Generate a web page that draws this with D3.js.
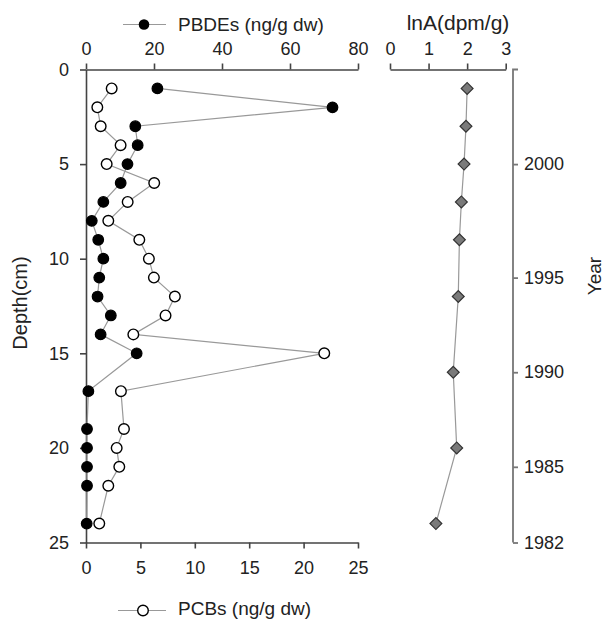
<!DOCTYPE html>
<html>
<head>
<meta charset="utf-8">
<script src="https://cdn.jsdelivr.net/npm/d3@7"></script>
<style>
body { margin: 0; background: #fff; }
text { font-family: "Liberation Sans", Arial, sans-serif; fill: #222; }
</style>
</head>
<body>
<div id="chart"></div>
<script>
// sediment core, depth of each slice in cm
const depths = [1, 2, 3, 4, 5, 6, 7, 8, 9, 10, 11, 12, 13, 14, 15, 17, 19, 20, 21, 22, 24];
const pbdes = [21.0, 72.5, 14.5, 15.2, 12.2, 10.2, 5.1, 1.7, 3.6, 5.1, 3.9, 3.4, 7.3, 4.3, 14.9, 0.7, 0.3, 0.3, 0.3, 0.3, 0.2];
const pcbs = [2.36, 1.04, 1.35, 3.18, 1.9, 6.27, 3.83, 2.05, 4.9, 5.78, 6.24, 8.17, 7.31, 4.35, 21.9, 3.21, 3.49, 2.82, 3.06, 2.05, 1.22];

const inaDepths = [1, 3, 5, 7, 9, 12, 16, 20, 24];
const inaValues = [2.00, 1.97, 1.92, 1.85, 1.80, 1.77, 1.64, 1.73, 1.19];

const depthTicks = [0, 5, 10, 15, 20, 25];
const pbdeTicks = [0, 20, 40, 60, 80];
const pcbTicks = [0, 5, 10, 15, 20, 25];
const inaTicks = [0, 1, 2, 3];
const yearTicks = [2000, 1995, 1990, 1985, 1982];
const yearTickDepths = [5, 11, 16, 21, 25];

const drawCore = () => {
    let svgWidth = 605, svgHeight = 619;
    let axisColor = "#444", lineColor = "#999";

    let svg = d3.select("#chart").append("svg")
        .attr("width", svgWidth)
        .attr("height", svgHeight);

    let y = d3.scaleLinear().domain([0, 25]).range([69.5, 542.5]);
    let xPbde = d3.scaleLinear().domain([0, 80]).range([86, 358]);
    let xPcb = d3.scaleLinear().domain([0, 25]).range([86, 358]);
    let xIna = d3.scaleLinear().domain([0, 3]).range([390, 505.7]);
    let yearScale = d3.scaleLinear().domain(yearTicks).range(yearTickDepths.map(d => y(d)));

    const styleAxis = (g, size) => {
        g.select(".domain").attr("stroke", axisColor).attr("stroke-width", 1.6);
        g.selectAll(".tick line").attr("stroke", axisColor).attr("stroke-width", 1.6);
        g.selectAll(".tick text").attr("font-size", size + "px").attr("fill", "#222")
            .attr("font-family", "'Liberation Sans', Arial, sans-serif");
    };

    // axes of the main panel
    svg.append("g")
        .attr("transform", "translate(" + xPbde(0) + ",0)")
        .call(d3.axisLeft(y).tickValues(depthTicks).tickSize(6).tickPadding(11).tickSizeOuter(0))
        .call(g => styleAxis(g, 18));

    svg.append("g")
        .attr("transform", "translate(0," + y(0) + ")")
        .call(d3.axisTop(xPbde).tickValues(pbdeTicks).tickSize(6).tickPadding(8.5).tickSizeOuter(0))
        .call(g => styleAxis(g, 18));

    svg.append("g")
        .attr("transform", "translate(0," + y(25) + ")")
        .call(d3.axisBottom(xPcb).tickValues(pcbTicks).tickSize(6).tickPadding(13).tickSizeOuter(0))
        .call(g => styleAxis(g, 18));

    // axis of the lnA panel
    svg.append("g")
        .attr("transform", "translate(0," + y(0) + ")")
        .call(d3.axisTop(xIna).tickValues(inaTicks).tickFormat(d3.format("d"))
            .tickSize(6).tickPadding(8.5).tickSizeOuter(0))
        .call(g => styleAxis(g, 18));

    // year axis (age model, not linear)
    let yearAxis = svg.append("g")
        .attr("transform", "translate(513,0)")
        .call(d3.axisRight(yearScale).tickValues(yearTicks).tickFormat(d3.format("d"))
            .tickSize(5).tickPadding(6).tickSizeOuter(0))
        .call(g => styleAxis(g, 18));
    yearAxis.select(".domain").remove();
    yearAxis.append("path")
        .attr("d", "M5," + y(0) + "H0V" + y(25))
        .attr("fill", "none")
        .attr("stroke", "#777")
        .attr("stroke-width", 1.8);
    yearAxis.selectAll(".tick line").attr("stroke", "#777").attr("stroke-width", 1.8);

    let rows = depths.map((d, i) => ({depth: d, pbde: pbdes[i], pcb: pcbs[i]}));
    let inaRows = inaDepths.map((d, i) => ({depth: d, value: inaValues[i]}));

    // connecting lines
    let pbdeLine = d3.line().x(d => xPbde(d.pbde)).y(d => y(d.depth));
    let pcbLine = d3.line().x(d => xPcb(d.pcb)).y(d => y(d.depth));
    let inaLine = d3.line().x(d => xIna(d.value)).y(d => y(d.depth));

    svg.append("path").datum(rows).attr("d", pbdeLine)
        .attr("fill", "none").attr("stroke", lineColor).attr("stroke-width", 1.2);
    svg.append("path").datum(rows).attr("d", pcbLine)
        .attr("fill", "none").attr("stroke", lineColor).attr("stroke-width", 1.2);
    svg.append("path").datum(inaRows).attr("d", inaLine)
        .attr("fill", "none").attr("stroke", lineColor).attr("stroke-width", 1.2);

    // markers
    svg.selectAll(".pbde").data(rows).enter()
        .append("circle")
        .attr("class", "pbde")
        .attr("cx", d => xPbde(d.pbde))
        .attr("cy", d => y(d.depth))
        .attr("r", 5.3)
        .attr("fill", "#000")
        .attr("stroke", "#000")
        .attr("stroke-width", 1.2);

    svg.selectAll(".pcb").data(rows).enter()
        .append("circle")
        .attr("class", "pcb")
        .attr("cx", d => xPcb(d.pcb))
        .attr("cy", d => y(d.depth))
        .attr("r", 5.3)
        .attr("fill", "#fff")
        .attr("stroke", "#000")
        .attr("stroke-width", 1.4);

    let diamond = d3.symbol().type(d3.symbolSquare).size(70);
    svg.selectAll(".ina").data(inaRows).enter()
        .append("path")
        .attr("class", "ina")
        .attr("d", diamond)
        .attr("transform", d => "translate(" + xIna(d.value) + "," + y(d.depth) + ") rotate(45)")
        .attr("fill", "#7a7a7a")
        .attr("stroke", "#333")
        .attr("stroke-width", 1.2);

    // legends
    let legTop = svg.append("g").attr("transform", "translate(123,24.5)");
    legTop.append("line").attr("x1", 0).attr("x2", 43).attr("stroke", lineColor).attr("stroke-width", 1.2);
    legTop.append("circle").attr("cx", 21).attr("r", 5.3).attr("fill", "#000");
    legTop.append("text").attr("x", 55).attr("y", 6.5).attr("font-size", "19px").text("PBDEs (ng/g dw)");

    let legBottom = svg.append("g").attr("transform", "translate(118,610.5)");
    legBottom.append("line").attr("x1", 0).attr("x2", 48).attr("stroke", lineColor).attr("stroke-width", 1.2);
    legBottom.append("circle").attr("cx", 25).attr("r", 5.3).attr("fill", "#fff")
        .attr("stroke", "#000").attr("stroke-width", 1.4);
    legBottom.append("text").attr("x", 60).attr("y", 4.5).attr("font-size", "19px").text("PCBs (ng/g dw)");

    // titles
    svg.append("text")
        .attr("x", 458).attr("y", 30)
        .attr("text-anchor", "middle")
        .attr("font-size", "21px")
        .text("lnA(dpm/g)");

    svg.append("text")
        .attr("transform", "translate(27,303) rotate(-90)")
        .attr("text-anchor", "middle")
        .attr("font-size", "20px")
        .text("Depth(cm)");

    svg.append("text")
        .attr("transform", "translate(601,276) rotate(-90)")
        .attr("text-anchor", "middle")
        .attr("font-size", "19px")
        .text("Year");
};

drawCore();
</script>
</body>
</html>
